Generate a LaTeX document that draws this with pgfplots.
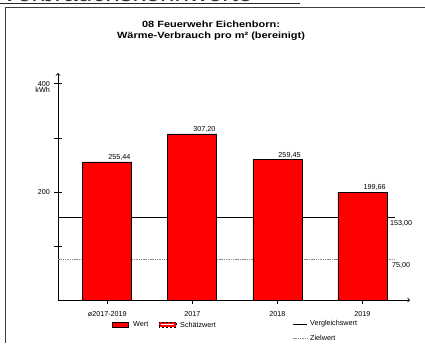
\documentclass[border=0pt]{standalone}
\usepackage{graphicx}
\usepackage{pgfplots}
\pgfplotsset{compat=1.18}
\usepackage{fontspec}
\setmainfont{Liberation Sans}
\newcommand{\sm}{\fontsize{7.2}{8}\selectfont}
\begin{document}
\begin{tikzpicture}[x=1pt,y=1pt]
\useasboundingbox (0,0) rectangle (425,343);
% cut-off heading and frame
\node[anchor=base west, inner sep=0, font=\fontsize{26}{28}\selectfont, text=black!80] at (1,341.8) {Verbrauchskennwerte};
\draw[line width=0.9pt, black!85] (0,340) -- (300,340);
\draw[line width=0.9pt, black!75] (5,0) -- (5,335.6) -- (425,335.6);
% title
\node[anchor=base, inner sep=0] at (211,315) {\scalebox{1.22}[1]{\bfseries\fontsize{9}{10}\selectfont 08 Feuerwehr Eichenborn:}};
\node[anchor=base, inner sep=0] at (211,304.5) {\scalebox{1.22}[1]{\bfseries\fontsize{9}{10}\selectfont Wärme-Verbrauch pro m² (bereinigt)}};
\begin{axis}[
  at={(58pt,43pt)}, anchor=south west,
  scale only axis, width=352pt, height=227pt,
  xmin=-0.58, xmax=3.56, ymin=0, ymax=420,
  axis lines=left,
  axis line style={line width=0.8pt, -to},
  tick style={line width=0.7pt, black},
  tick align=center,
  major tick length=8pt,
  minor tick length=3.5pt,
  ytick={100,200,300,400},
  yticklabels={,200,,400},
  xtick={0,1,2,3},
  xticklabels={ø2017-2019,2017,2018,2019},
  minor xtick={0,1,2,3},
  every major x tick/.style={draw=none},
  every minor x tick/.style={yshift=-1.75pt},
  /pgf/number format/assume math mode=true,
  tick label style={font=\sm, inner sep=0pt},
  xticklabel style={yshift=-7pt},
  yticklabel style={xshift=-4pt},
  clip=false,
]
\addplot[black, line width=0.8pt] coordinates {(-0.58,153) (3.38,153)};
\addplot[black!45, line width=0.8pt, dash pattern=on 1.5pt off 0.8pt] coordinates {(-0.58,75) (3.38,75)};
\addplot[ybar, bar width=49pt, fill=red, draw=black, line width=0.7pt,
  point meta=explicit symbolic, nodes near coords,
  every node near coord/.style={anchor=south east, xshift=24.5pt, inner sep=1pt, font=\sm}]
  coordinates {(0,255.44) [255,44] (1,307.20) [307,20] (2,259.45) [259,45] (3,199.66) [199,66]};
\node[anchor=north, inner sep=0, font=\sm] at (axis cs:3.455,153) [yshift=-3pt] {153,00};
\node[anchor=north, inner sep=0, font=\sm] at (axis cs:3.455,75) [yshift=-3pt] {75,00};
\node[anchor=north east, inner sep=0, font=\sm] at (axis cs:-0.58,400) [xshift=-8pt, yshift=-3pt] {kWh};
\end{axis}
% legend
\draw[fill=red, draw=black, line width=0.6pt] (112,16) rectangle (128,21);
\node[anchor=west, inner sep=0, font=\sm] at (133,18.5) {Wert};
\fill[red] (159,15.8) rectangle (176,21.2);
\fill[white] (161,17.6) rectangle (174,19.4);
\draw[black, line width=0.5pt, dash pattern=on 2pt off 2pt] (159,15.8) rectangle (176,21.2);
\node[anchor=west, inner sep=0, font=\sm] at (180,18.5) {Schätzwert};
\draw[black, line width=0.8pt] (293,19) -- (307,19);
\node[anchor=west, inner sep=0, font=\sm] at (310,19) {Vergleichswert};
\draw[black!45, line width=0.8pt, dash pattern=on 1.5pt off 0.8pt] (293,5) -- (307,5);
\node[anchor=west, inner sep=0, font=\sm] at (310,5) {Zielwert};
\end{tikzpicture}
\end{document}
